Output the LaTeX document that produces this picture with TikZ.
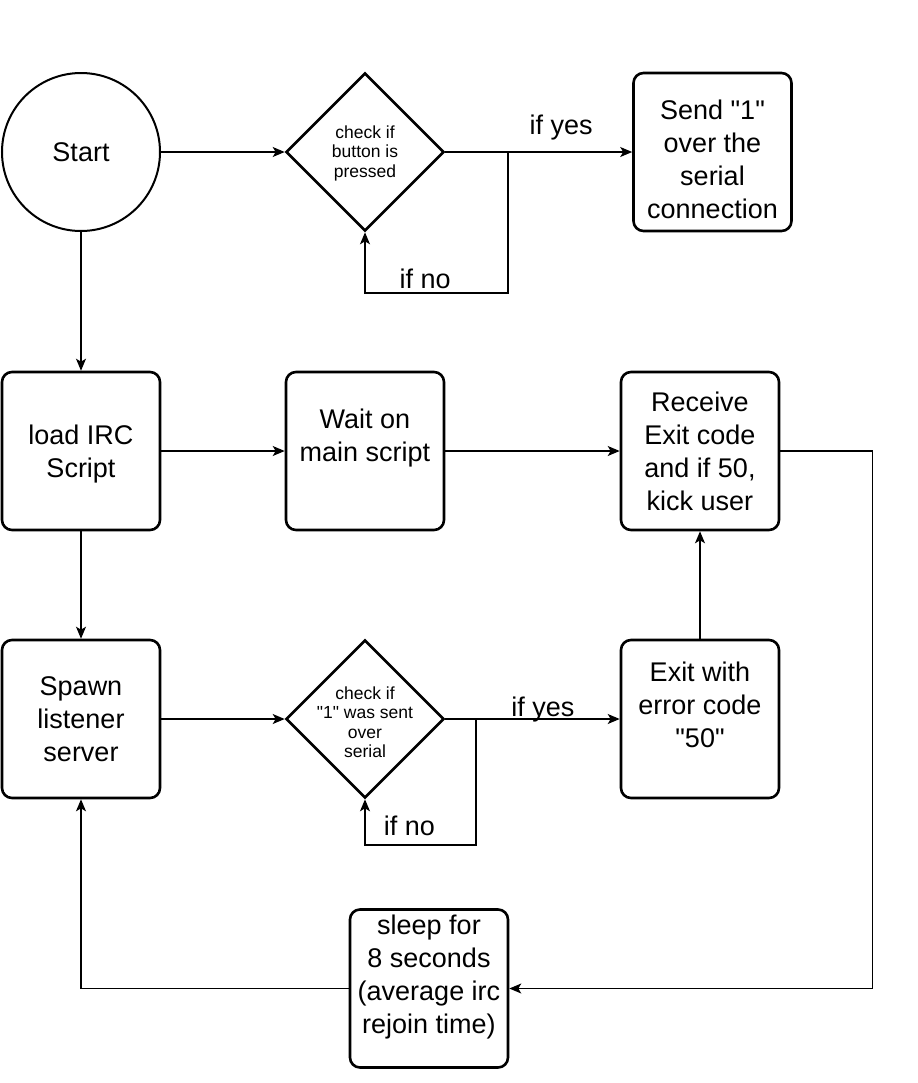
\documentclass[tikz,border=0pt]{standalone}
\usepackage{fontspec}
\setmainfont{Liberation Sans}
\usetikzlibrary{shapes.geometric,arrows.meta}

\begin{document}
\begin{tikzpicture}[x=1bp,y=-1bp,
  box/.style={draw,line width=2.6bp,rounded corners=10bp,minimum width=158bp,minimum height=158bp,inner sep=0pt},
  decision/.style={draw,diamond,line width=2.6bp,minimum width=158bp,minimum height=158bp,inner sep=0pt},
  big/.style={font=\fontsize{27bp}{33bp}\selectfont,align=center},
  small/.style={font=\fontsize{17.5bp}{19.5bp}\selectfont,align=center},
  arr/.style={-{Stealth[length=12bp,width=10bp,inset=3bp]},line width=1.3bp}]
\useasboundingbox (0,0) rectangle (918,1083);
% top row: button loop
\node[draw,circle,line width=2bp,minimum size=158bp,inner sep=0pt,big] (start) at (81,152) {Start};
\node[decision] (chk1) at (365,152) {};
\node[small] at ([yshift=-1bp]chk1.center) {check if\\button is\\pressed};
\node[box] (send) at (712.5,152) {};
\node[big] at ([yshift=-7bp]send.center) {Send \textquotedbl 1\textquotedbl\\over the\\serial\\connection};
% middle row
\node[box] (load) at (81,451) {};
\node[big] at ([yshift=-3bp]load.center) {load IRC\\Script};
\node[box] (wait) at (365,451) {};
\node[big] at ([yshift=13bp]wait.center) {Wait on\\main script};
\node[box,big] (recv) at (700,451) {Receive\\Exit code\\and if 50,\\kick user};
% lower row
\node[box,big] (spawn) at (81,719) {Spawn\\listener\\server};
\node[decision] (chk2) at (365,719) {};
\node[small] at ([yshift=-3bp]chk2.center) {check if\\\textquotedbl 1\textquotedbl\ was sent\\over\\serial};
\node[box] (exit) at (700,719) {};
\node[big] at ([yshift=14bp]exit.center) {Exit with\\error code\\\textquotedbl 50\textquotedbl};
\node[box] (sleep) at (429,988.5) {};
\node[big] at ([yshift=11bp]sleep.center) {sleep for\\8 seconds\\(average irc\\rejoin time)};
% connectors
\coordinate (j1) at (508,152);
\coordinate (c1) at (508,293);
\coordinate (j2) at (476,719);
\coordinate (c2) at (476,845);
\draw[arr] (start) -- (chk1);
\draw[arr] (chk1.east) -- node[big,anchor=base,yshift=18bp,pos=0.62]{if yes} (send.west);
\draw[arr] (j1) -- (c1) -| node[big,anchor=base,yshift=5bp,pos=0.29]{if no} (chk1.south);
\draw[arr] (start) -- (load);
\draw[arr] (load) -- (wait);
\draw[arr] (wait) -- (recv);
\draw[arr] (load) -- (spawn);
\draw[arr] (spawn) -- (chk2);
\draw[arr] (chk2.east) -- node[big,anchor=base,yshift=3bp,pos=0.56]{if yes} (exit.west);
\draw[arr] (j2) -- (c2) -| node[big,anchor=base,yshift=10bp,pos=0.30]{if no} (chk2.south);
\draw[arr] (exit) -- (recv);
\draw[arr] (recv.east) -- ++(92,0) |- (sleep.east);
\draw[arr] (sleep.west) -| (spawn.south);
\end{tikzpicture}
\end{document}
